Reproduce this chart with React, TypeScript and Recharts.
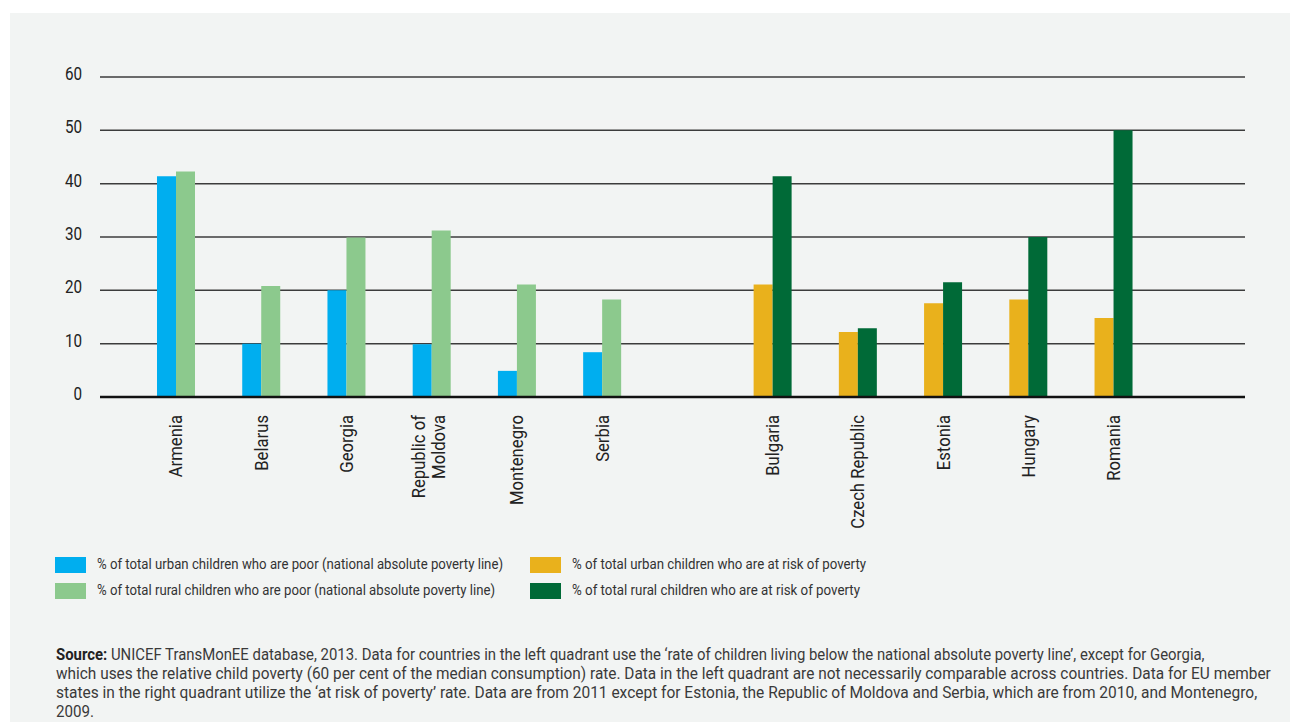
import React from 'react';
import {Bar, BarChart, CartesianGrid, XAxis, YAxis} from 'recharts';

// 13 slots: left group, blank slot, right group, blank slot
const countries = ['Armenia', 'Belarus', 'Georgia', 'Republic of Moldova', 'Montenegro', 'Serbia', '', 'Bulgaria', 'Czech Republic', 'Estonia', 'Hungary', 'Romania', ''];
const urbanPoor = [41.4, 10.0, 20.0, 9.9, 4.9, 8.4, null, null, null, null, null, null, null];
const ruralPoor = [42.3, 20.8, 29.9, 31.2, 21.1, 18.3, null, null, null, null, null, null, null];
const urbanRisk = [null, null, null, null, null, null, null, 21.1, 12.2, 17.6, 18.3, 14.8, null];
const ruralRisk = [null, null, null, null, null, null, null, 41.4, 12.9, 21.5, 30.0, 50.0, null];
const yTicks = [0, 10, 20, 30, 40, 50, 60];

const legendItems = [
    {label: '% of total urban children who are poor (national absolute poverty line)', color: '#00aeef', x: 45, y: 544, len: 406},
    {label: '% of total rural children who are poor (national absolute poverty line)', color: '#8cc98d', x: 45, y: 570, len: 398},
    {label: '% of total urban children who are at risk of poverty', color: '#e9b11c', x: 520, y: 544, len: 294},
    {label: '% of total rural children who are at risk of poverty', color: '#006a37', x: 520, y: 570, len: 288},
];

const sourceLines = [
    'UNICEF TransMonEE database, 2013. Data for countries in the left quadrant use the \u2018rate of children living below the national absolute poverty line\u2019, except for Georgia,',
    'which uses the relative child poverty (60 per cent of the median consumption) rate. Data in the left quadrant are not necessarily comparable across countries. Data for EU member',
    'states in the right quadrant utilize the \u2018at risk of poverty\u2019 rate. Data are from 2011 except for Estonia, the Republic of Moldova and Serbia, which are from 2010, and Montenegro,',
    '2009.',
];
// horizontal squeeze per line, standing in for the condensed face of the original
const sourceSqueeze = [0.877, 0.906, 0.912, 0.89];

const data = countries.map((name, i) => ({
    name,
    urbanPoor: urbanPoor[i],
    ruralPoor: ruralPoor[i],
    urbanRisk: urbanRisk[i],
    ruralRisk: ruralRisk[i],
}));

const FONT = "Roboto, 'DejaVu Sans', sans-serif";

const CountryTick = (props: any) => {
    const {x, y, payload} = props;
    const value: string = payload.value || '';
    let lines = [value];
    if (value.length > 16) {
        const cut = value.lastIndexOf(' ');
        lines = [value.slice(0, cut), value.slice(cut + 1)];
    }
    const offsets = lines.length === 1 ? [0] : [-13, 7];
    return (
        <g transform={`translate(${x},${y + 18})`}>
            {lines.map((line, i) => (
                <text key={i} transform={`translate(${offsets[i]},0) rotate(-90) scale(0.878,1)`} x={0} y={0} dy="0.36em"
                      textAnchor="end" fontFamily={FONT} fontSize={19} fill="#222">
                    {line}
                </text>
            ))}
        </g>
    );
};

const ValueTick = (props: any) => {
    const {x, y, payload} = props;
    return (
        <text transform={`translate(${x},${y - 4}) scale(0.8,1)`} x={0} y={0} dy="0.36em" textAnchor="end"
              fontFamily={FONT} fontSize={19} fill="#222">
            {payload.value}
        </text>
    );
};

const App = () => {
    return (
        <div style={{position: 'absolute', left: 10, top: 13, width: 1280, height: 709, background: '#f2f4f3', overflow: 'hidden'}}>
            <div style={{position: 'absolute', left: 0, top: 0}}>
                <BarChart width={1280} height={540} data={data} barSize={19} barGap={0}
                          margin={{top: 64, right: 45, left: 0, bottom: 16}}>
                    <CartesianGrid vertical={false} stroke="#3c3c3c" strokeWidth={1.5}/>
                    <XAxis dataKey="name" interval={0} height={140} padding={{left: 33, right: 4}}
                           axisLine={{stroke: '#111', strokeWidth: 2.5}} tickLine={false} tickSize={0} tickMargin={0}
                           tick={<CountryTick/>}/>
                    <YAxis width={90} domain={[0, 60]} ticks={yTicks} axisLine={false} tickLine={false}
                           tickSize={0} tickMargin={18} tick={<ValueTick/>}/>
                    <Bar dataKey="urbanPoor" stackId="u" fill={legendItems[0].color} isAnimationActive={false}/>
                    <Bar dataKey="ruralPoor" stackId="r" fill={legendItems[1].color} isAnimationActive={false}/>
                    <Bar dataKey="urbanRisk" stackId="u" fill={legendItems[2].color} isAnimationActive={false}/>
                    <Bar dataKey="ruralRisk" stackId="r" fill={legendItems[3].color} isAnimationActive={false}/>
                </BarChart>
            </div>
            <svg width={1280} height={709} style={{position: 'absolute', left: 0, top: 0}}>
                {legendItems.map((item, i) => (
                    <g key={i}>
                        <rect x={item.x} y={item.y} width={31} height={16} fill={item.color}/>
                        <text x={item.x + 42} y={item.y + 11.5} textLength={item.len} lengthAdjust="spacingAndGlyphs"
                              fontFamily={FONT} fontSize={15.5} fill="#333">
                            {item.label}
                        </text>
                    </g>
                ))}
                {sourceLines.map((line, i) => (
                    <text key={i} transform={`translate(46,${646.5 + i * 19}) scale(${sourceSqueeze[i]},1)`} x={0} y={0}
                          fontFamily={FONT} fontSize={17} fill="#3a3a3a">
                        {i === 0 && <tspan fontWeight="bold" fill="#222">Source: </tspan>}
                        {line}
                    </text>
                ))}
            </svg>
        </div>
    );
};

export default App;
